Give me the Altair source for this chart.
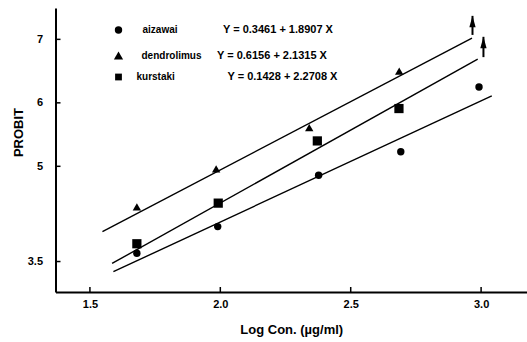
import altair as alt
import pandas as pd

# ---- data ----
series = ["aizawai", "dendrolimus", "kurstaki"]
equations = ["Y = 0.3461  + 1.8907 X", "Y = 0.6156  + 2.1315  X", "Y = 0.1428  + 2.2708 X"]
shapes = ["circle", "triangle-up", "square"]

aizawai_x = [1.68, 1.99, 2.377, 2.692, 2.992]
aizawai_y = [3.63, 4.05, 4.86, 5.23, 6.25]
dendro_x = [1.68, 1.984, 2.341, 2.686]
dendro_y = [4.36, 4.96, 5.61, 6.50]
kurstaki_x = [1.68, 1.992, 2.372, 2.685]
kurstaki_y = [3.78, 4.42, 5.40, 5.91]

# fitted lines (start / end as drawn)
line_x1 = [1.59, 1.548, 1.585]
line_y1 = [3.34, 3.97, 3.47]
line_x2 = [3.041, 2.965, 2.987]
line_y2 = [6.11, 7.02, 6.69]

# upward arrows
arrow_x = [2.967, 3.009]
arrow_base = [7.07, 6.72]
arrow_tip = [7.37, 7.04]

x_ticks = [1.5, 2.0, 2.5, 3.0]
y_ticks = [3.5, 5, 6, 7]

# ---- tables ----
pts = pd.DataFrame({
    "x": aizawai_x + dendro_x + kurstaki_x,
    "y": aizawai_y + dendro_y + kurstaki_y,
    "series": [series[0]] * len(aizawai_x) + [series[1]] * len(dendro_x) + [series[2]] * len(kurstaki_x),
})
lines = pd.DataFrame({"series": series, "x1": line_x1, "y1": line_y1, "x2": line_x2, "y2": line_y2})
arrows = pd.DataFrame({"x": arrow_x, "base": arrow_base, "tip": arrow_tip})
xt = pd.DataFrame({"v": x_ticks})
yt = pd.DataFrame({"v": y_ticks})

FONT = "Liberation Sans"
W, H = 471.5, 284
SIZES = [55, 85, 46]

xs = alt.Scale(domain=[1.368, 3.176], nice=False, zero=False)
ys = alt.Scale(domain=[3.02, 7.494], nice=False, zero=False)

xaxis = alt.Axis(values=x_ticks, format=".1f", title="Log Con. (\u00b5g/ml)", ticks=False,
                 labelPadding=6, titlePadding=14, titleFontSize=13)
yaxis = alt.Axis(values=y_ticks, labelExpr="datum.value == 3.5 ? '3.5' : format(datum.value, 'd')",
                 title="PROBIT", ticks=False, labelPadding=13, titleX=-37, titleY=124,
                 titleAngle=-90, titleBaseline="middle", titleAlign="center", titleFontSize=13)

base_pts = alt.Chart(pts).mark_point(filled=True, color="black", opacity=1).encode(
    x=alt.X("x:Q", scale=xs, axis=xaxis),
    y=alt.Y("y:Q", scale=ys, axis=yaxis),
    shape=alt.Shape("series:N", scale=alt.Scale(domain=series, range=shapes), legend=None),
    size=alt.Size("series:N", scale=alt.Scale(domain=series, range=SIZES), legend=None),
)

fit = alt.Chart(lines).mark_rule(color="black", strokeWidth=1.4).encode(
    x=alt.X("x1:Q", scale=xs), y=alt.Y("y1:Q", scale=ys),
    x2="x2:Q", y2="y2:Q",
)

shaft = alt.Chart(arrows).mark_rule(color="black", strokeWidth=2).encode(
    x=alt.X("x:Q", scale=xs), y=alt.Y("base:Q", scale=ys), y2="tip:Q",
)
head = alt.Chart(arrows).mark_point(shape="M -0.55 2 L 0 0 L 0.55 2 Z", filled=True, color="black",
                                    opacity=1, size=130).encode(
    x=alt.X("x:Q", scale=xs), y=alt.Y("tip:Q", scale=ys),
)

xtick = alt.Chart(xt).mark_rule(color="black", strokeWidth=1.5).encode(
    x=alt.X("v:Q", scale=xs), y=alt.value(H), y2=alt.value(H - 5),
)
ytick = alt.Chart(yt).mark_rule(color="black", strokeWidth=1.5).encode(
    y=alt.Y("v:Q", scale=ys), x=alt.value(0), x2=alt.value(5),
)

layers = [fit, shaft, head, xtick, ytick, base_pts]

legend_y = [22, 47.5, 69]
name_x = [87, 86, 81]
eq_x = [167.5, 161.5, 172]
for i, s in enumerate(series):
    d = pd.DataFrame({"series": [s], "eq": [equations[i]]})
    sym = alt.Chart(d).mark_point(filled=True, color="black", opacity=1, size=SIZES[i], shape=shapes[i]).encode(
        x=alt.value(63), y=alt.value(legend_y[i]))
    name = alt.Chart(d).mark_text(align="left", baseline="middle", font=FONT, fontWeight="bold",
                                  fontSize=10, color="black").encode(
        x=alt.value(name_x[i]), y=alt.value(legend_y[i]), text="series:N")
    eq = alt.Chart(d).mark_text(align="left", baseline="middle", font=FONT, fontWeight="bold",
                                fontSize=11, color="black").encode(
        x=alt.value(eq_x[i]), y=alt.value(legend_y[i]), text="eq:N")
    layers += [sym, name, eq]

chart = alt.layer(*layers).properties(
    width=W, height=H,
    autosize=alt.AutoSizeParams(type="none"),
    padding={"left": 55.5, "top": 8, "right": 0, "bottom": 50},
).configure_view(stroke=None).configure_axis(
    grid=False, domainColor="black", domainWidth=2, labelColor="black",
    labelFont=FONT, labelFontWeight="bold", labelFontSize=11,
    titleFont=FONT, titleFontWeight="bold", titleColor="black",
)

chart.save("out.html", embed_options={"renderer": "svg", "actions": False})
